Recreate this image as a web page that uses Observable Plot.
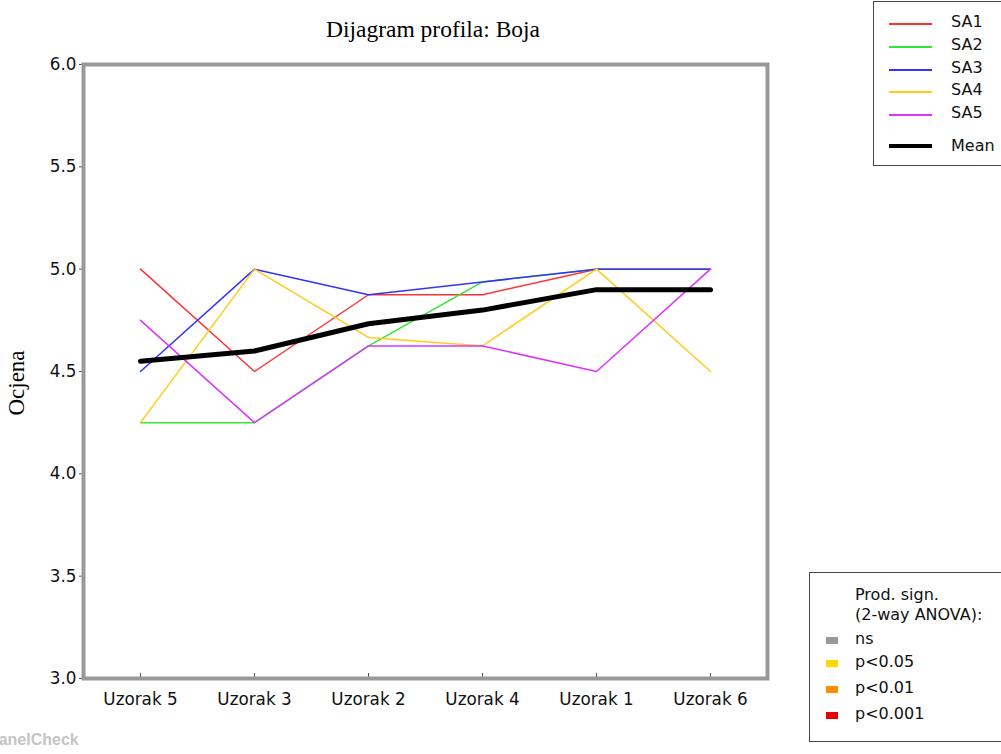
<!DOCTYPE html>
<html>
<head>
<meta charset="utf-8">
<script src="https://cdn.jsdelivr.net/npm/d3@7"></script>
<script src="https://cdn.jsdelivr.net/npm/@observablehq/plot@0.6"></script>
<style>
  html, body { margin: 0; padding: 0; background: #fff; }
  #wrap { position: relative; width: 1001px; height: 754px; overflow: hidden; font-family: "DejaVu Sans", sans-serif; }
  #chart { position: absolute; left: 0; top: 0; }
  .title { position: absolute; top: 16px; left: 433px; transform: translateX(-50%); font-family: "Liberation Serif", "Times New Roman", serif; font-size: 23.5px; color: #000; white-space: nowrap; }
  .ylab { position: absolute; left: 17px; top: 383px; transform: translate(-50%, -50%) rotate(-90deg); font-family: "Liberation Serif", "Times New Roman", serif; font-size: 23px; white-space: nowrap; }
  .leg1 { position: absolute; left: 873px; top: 1px; width: 140px; height: 165px; border: 1px solid #444; background: #fff; box-sizing: border-box; }
  .leg2 { position: absolute; left: 809px; top: 572px; width: 200px; height: 170px; border: 1px solid #444; background: #fff; box-sizing: border-box; }
  .row { position: absolute; font-size: 16px; white-space: nowrap; color: #111; }
  .ln { position: absolute; }
  .sq { position: absolute; width: 12px; height: 7px; }
  .wm { position: absolute; left: -12px; top: 731px; font-family: "Liberation Sans", Arial, sans-serif; font-weight: bold; font-size: 16px; color: #c4c4c4; white-space: nowrap; }
</style>
</head>
<body>
<div id="wrap">
  <div id="chart"></div>
</div>
<script>
// ---- data ----
const samples = ["Uzorak 5", "Uzorak 3", "Uzorak 2", "Uzorak 4", "Uzorak 1", "Uzorak 6"];
const assessors = ["SA1", "SA2", "SA3", "SA4", "SA5"];
const SA1 = [5.0, 4.5, 4.875, 4.875, 5.0, 5.0];
const SA2 = [4.25, 4.25, 4.625, 4.9375, 5.0, 5.0];
const SA3 = [4.5, 5.0, 4.875, 4.9375, 5.0, 5.0];
const SA4 = [4.25, 5.0, 4.6667, 4.625, 5.0, 4.5];
const SA5 = [4.75, 4.25, 4.625, 4.625, 4.5, 5.0];
const meanValues = [4.55, 4.6, 4.7333, 4.8, 4.9, 4.9];
const assessorColors = ["#ff3333", "#33e633", "#3333ff", "#ffcc1a", "#dd33ff"];
const yTicks = [3.0, 3.5, 4.0, 4.5, 5.0, 5.5, 6.0];
const titleText = "Dijagram profila: Boja";
const yLabel = "Ocjena";
const sigLabels = ["ns", "p<0.05", "p<0.01", "p<0.001"];
const sigColors = ["#999999", "#ffd700", "#ff8c00", "#e60000"];

// ---- build table ----
const seriesArrays = [SA1, SA2, SA3, SA4, SA5];
const rows = [];
seriesArrays.forEach((arr, si) => arr.forEach((v, i) => rows.push({assessor: assessors[si], i, value: v})));
const meanRows = meanValues.map((v, i) => ({i, value: v}));
const xIdx = samples.map((_, i) => i);

const plot = Plot.plot({
  width: 1001,
  height: 754,
  marginLeft: 83,
  marginRight: 234,
  marginTop: 64,
  marginBottom: 76,
  style: {fontFamily: "DejaVu Sans, sans-serif", fontSize: "16.8px", color: "#111", background: "transparent"},
  x: {domain: [-0.5, 5.5]},
  y: {domain: [3, 6]},
  color: {domain: assessors, range: assessorColors},
  marks: [
    Plot.axisX({ticks: xIdx, tickFormat: i => samples[i], tickSize: -5, tickPadding: 20, label: null, stroke: "#555"}),
    Plot.axisY({ticks: yTicks, tickFormat: d3.format(".1f"), tickSize: 4, tickPadding: 3, label: null, stroke: "#555"}),
    Plot.line(rows, {x: "i", y: "value", z: "assessor", stroke: "assessor", strokeWidth: 1.5}),
    Plot.line(meanRows, {x: "i", y: "value", stroke: "#000", strokeWidth: 5}),
    Plot.frame({stroke: "#999", strokeWidth: 4})
  ]
});
document.getElementById("chart").appendChild(plot);

const wrap = document.getElementById("wrap");
function add(html) { wrap.insertAdjacentHTML("beforeend", html); }
add(`<div class="title">${titleText}</div>`);
add(`<div class="ylab">${yLabel}</div>`);

// legend 1
let l1 = `<div class="leg1">`;
const legY = [21, 44, 67, 89, 112];
assessors.forEach((a, k) => {
  l1 += `<div class="ln" style="left:15px;top:${legY[k]}px;width:43px;height:2px;background:${assessorColors[k]}"></div>`;
  l1 += `<div class="row" style="left:77px;top:${legY[k] - 11}px">${a}</div>`;
});
l1 += `<div class="ln" style="left:15px;top:142px;width:43px;height:4px;background:#000"></div>`;
l1 += `<div class="row" style="left:77px;top:134px">Mean</div>`;
l1 += `</div>`;
add(l1);

// legend 2
let l2 = `<div class="leg2">`;
l2 += `<div class="row" style="left:45px;top:12px;line-height:20px">Prod. sign.<br>(2-way ANOVA):</div>`;
const sigY = [67, 90, 116, 142];
sigLabels.forEach((s, k) => {
  l2 += `<div class="sq" style="left:16px;top:${sigY[k] - 3}px;background:${sigColors[k]}"></div>`;
  l2 += `<div class="row" style="left:45px;top:${sigY[k] - 11}px">${s}</div>`;
});
l2 += `</div>`;
add(l2);

add(`<div class="wm">PanelCheck</div>`);
</script>
</body>
</html>
